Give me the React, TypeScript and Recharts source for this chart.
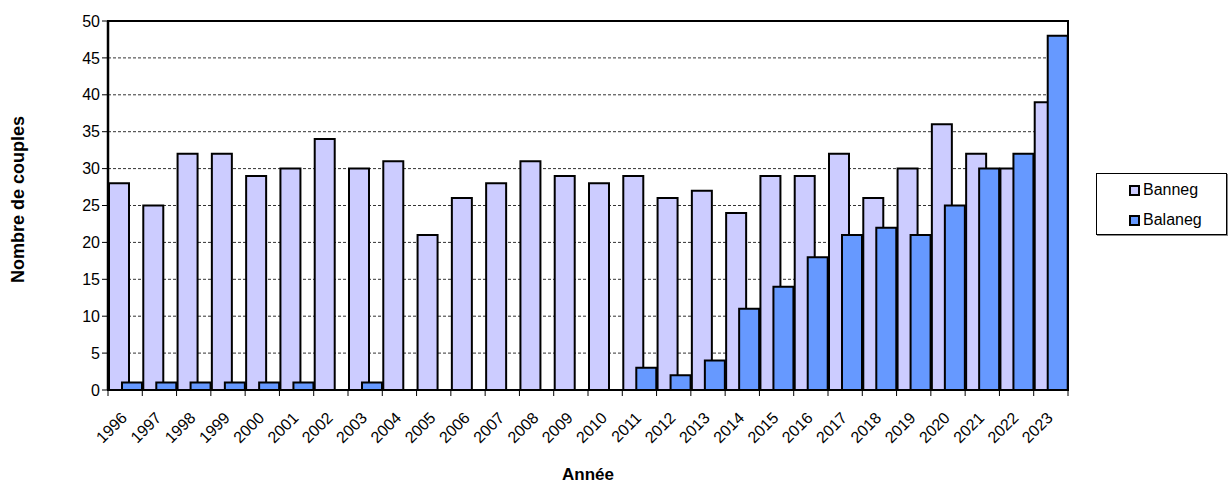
import React from "react";
import { BarChart, Bar, XAxis, YAxis, CartesianGrid, ReferenceArea } from "recharts";

// Breeding pairs per year on the two islands
const years = [
  "1996", "1997", "1998", "1999", "2000", "2001", "2002", "2003", "2004", "2005",
  "2006", "2007", "2008", "2009", "2010", "2011", "2012", "2013", "2014", "2015",
  "2016", "2017", "2018", "2019", "2020", "2021", "2022", "2023",
];
const banneg = [
  28, 25, 32, 32, 29, 30, 34, 30, 31, 21,
  26, 28, 31, 29, 28, 29, 26, 27, 24, 29,
  29, 32, 26, 30, 36, 32, 30, 39,
];
const balaneg = [
  1, 1, 1, 1, 1, 1, 0, 1, 0, 0,
  0, 0, 0, 0, 0, 3, 2, 4, 11, 14,
  18, 21, 22, 21, 25, 30, 32, 48,
];
const yTicks = [0, 5, 10, 15, 20, 25, 30, 35, 40, 45, 50];

const seriesNames = ["Banneg", "Balaneg"];
const seriesColors = ["#CCCCFF", "#6699FF"];

const data = years.map((year, i) => ({
  year,
  Banneg: banneg[i],
  Balaneg: balaneg[i],
}));

const FONT = "'Liberation Sans', Arial, sans-serif";

// Category tick: rotated year label plus a tick mark on the band boundary
const YearTick = (props: any) => {
  const { x, y, payload, index, visibleTicksCount } = props;
  const half = payload.offset || 0;
  const axisY = y - 8;
  const lx = x - 1;
  const ly = axisY + 25;
  return (
    <g>
      <line x1={x - half} y1={axisY} x2={x - half} y2={axisY + 6} stroke="#000" strokeWidth={1} />
      {index === visibleTicksCount - 1 && (
        <line x1={x + half} y1={axisY} x2={x + half} y2={axisY + 6} stroke="#000" strokeWidth={1} />
      )}
      <text
        x={lx}
        y={ly}
        transform={`rotate(-45, ${lx}, ${ly})`}
        textAnchor="end"
        dominantBaseline="central"
        fontFamily={FONT}
        fontSize={16}
        fill="#000"
      >
        {payload.value}
      </text>
    </g>
  );
};

const YLabel = (props: any) => {
  const { viewBox } = props;
  const cx = 18;
  const cy = viewBox.y + viewBox.height / 2 - 6;
  return (
    <text
      x={cx}
      y={cy}
      transform={`rotate(-90, ${cx}, ${cy})`}
      textAnchor="middle"
      dominantBaseline="central"
      fontFamily={FONT}
      fontWeight="bold"
      fontSize={18}
      fill="#000"
    >
      Nombre de couples
    </text>
  );
};

const XLabel = (props: any) => {
  const { viewBox } = props;
  const cx = viewBox.x + viewBox.width / 2;
  return (
    <text
      x={cx}
      y={474}
      textAnchor="middle"
      dominantBaseline="central"
      fontFamily={FONT}
      fontWeight="bold"
      fontSize={17}
      fill="#000"
    >
      Année
    </text>
  );
};

export default function App() {
  return (
    <div style={{ position: "absolute", left: 0, top: 0, width: 1229, height: 483, background: "#fff" }}>
      <BarChart
        width={1229}
        height={483}
        data={data}
        margin={{ top: 21, right: 161, bottom: 0, left: 0 }}
        barSize={20}
        barGap={-7}
      >
        <CartesianGrid horizontal vertical={false} stroke="#333" strokeDasharray="3 2" />
        <ReferenceArea y1={0} y2={50} fill="none" stroke="#000" strokeWidth={2} ifOverflow="visible" />
        <XAxis
          dataKey="year"
          height={93}
          interval={0}
          tickLine={false}
          axisLine={{ stroke: "#000", strokeWidth: 1.5 }}
          tick={<YearTick />}
          label={<XLabel />}
        />
        <YAxis
          width={108}
          domain={[0, 50]}
          ticks={yTicks}
          interval={0}
          tickSize={6}
          tickLine={{ stroke: "#000" }}
          axisLine={{ stroke: "#000", strokeWidth: 2.5 }}
          tick={{ fill: "#000", fontSize: 16, fontFamily: FONT }}
          label={<YLabel />}
        />
        <Bar dataKey="Banneg" fill={seriesColors[0]} stroke="#000" strokeWidth={2} isAnimationActive={false} />
        <Bar dataKey="Balaneg" fill={seriesColors[1]} stroke="#000" strokeWidth={2} isAnimationActive={false} />
      </BarChart>
      <div
        style={{
          position: "absolute",
          left: 1096,
          top: 173,
          width: 131,
          height: 62,
          border: "1px solid #000",
          boxShadow: "1px 1px 0 #888",
          fontFamily: FONT,
          fontSize: 16,
          color: "#000",
          boxSizing: "border-box",
        }}
      >
        {seriesNames.map((name, i) => (
          <div
            key={name}
            style={{ position: "absolute", left: 32, top: i === 0 ? 6 : 36, display: "flex", alignItems: "center", lineHeight: "20px" }}
          >
            <span
              style={{
                display: "inline-block",
                width: 7,
                height: 7,
                background: seriesColors[i],
                border: "2px solid #000",
                marginRight: 3,
              }}
            />
            <span>{name}</span>
          </div>
        ))}
      </div>
    </div>
  );
}
